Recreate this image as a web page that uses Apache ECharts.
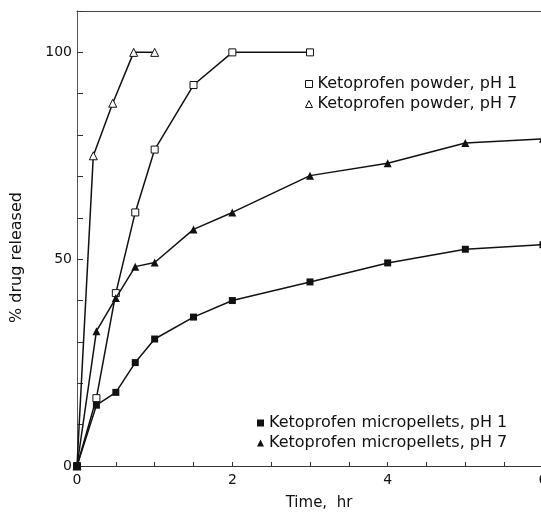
<!DOCTYPE html>
<html>
<head>
<meta charset="utf-8">
<script src="https://cdn.jsdelivr.net/npm/echarts@6/dist/echarts.min.js"></script>
<style>
  html, body { margin: 0; padding: 0; background: #fff; }
  #chart { width: 541px; height: 516px; }
</style>
</head>
<body>
<div id="chart"></div>
<script>
// values (time in hr, % drug released)
var timePowderPH1 = [0, 0.25, 0.5, 0.75, 1, 1.5, 2, 3];
var powderPH1 = [0, 16.4, 41.8, 61.3, 76.5, 92.1, 100, 100];
var timePowderPH7 = [0, 0.21, 0.46, 0.73, 1.0];
var powderPH7 = [0, 75.0, 87.7, 100, 100];
var timeMicro = [0, 0.25, 0.5, 0.75, 1, 1.5, 2, 3, 4, 5, 6];
var microPH1 = [0, 14.7, 17.8, 25.0, 30.7, 36.0, 40.0, 44.5, 49.1, 52.4, 53.5];
var microPH7 = [0, 32.6, 40.6, 48.2, 49.2, 57.2, 61.3, 70.2, 73.2, 78.1, 79.1];
var xLabels = [0, 2, 4, 6];
var yLabels = [0, 50, 100];

var FONT = 'DejaVu Sans';
var INK = '#111';

function pairs(xs, ys) {
  return xs.map(function (x, i) { return [x, ys[i]]; });
}

var openStyle = { color: '#fff', borderColor: INK, borderWidth: 1 };
var fillStyle = { color: INK, borderColor: INK, borderWidth: 0 };

var chart = echarts.init(document.getElementById('chart'));

function lineSeries(name, xs, ys, symbol, size, filled) {
  return {
    name: name,
    type: 'line',
    data: pairs(xs, ys),
    symbol: symbol,
    symbolSize: size,
    showAllSymbol: true,
    clip: false,
    lineStyle: { color: INK, width: 1.5 },
    itemStyle: filled ? fillStyle : openStyle,
    emphasis: { disabled: true },
    z: filled ? 3 : 2
  };
}

function legendBox(items, left, top) {
  return {
    data: items,
    orient: 'vertical',
    left: left, top: top,
    padding: 0,
    itemWidth: 7, itemHeight: 7, itemGap: 4,
    selectedMode: false,
    textStyle: { fontFamily: FONT, fontSize: 16, color: INK, lineHeight: 15 }
  };
}

chart.setOption({
  animation: false,
  backgroundColor: '#fff',
  grid: { left: 77, right: -2, top: 11, bottom: 50, outerBoundsMode: 'none', containLabel: false },
  legend: [
    legendBox([
      { name: 'Ketoprofen powder, pH 1', icon: 'rect', itemStyle: openStyle },
      { name: 'Ketoprofen powder, pH 7', icon: 'triangle', itemStyle: openStyle }
    ], 305, 76),
    legendBox([
      { name: 'Ketoprofen micropellets, pH 1', icon: 'rect', itemStyle: fillStyle },
      { name: 'Ketoprofen micropellets, pH 7', icon: 'triangle', itemStyle: fillStyle }
    ], 257, 415)
  ],
  xAxis: [
    {
      type: 'value',
      min: 0, max: 6, interval: 0.5,
      name: 'Time,  hr',
      nameLocation: 'middle',
      nameGap: 30,
      nameTextStyle: { fontFamily: FONT, fontSize: 15, color: INK, padding: [0, 0, 0, 18] },
      axisLine: { show: true, lineStyle: { color: '#333', width: 1 } },
      axisTick: { show: true, inside: true, length: 4, lineStyle: { color: '#333' } },
      axisLabel: {
        fontFamily: FONT, fontSize: 14, color: INK, margin: 7,
        formatter: function (v) { return xLabels.indexOf(v) >= 0 ? String(v) : ''; }
      },
      splitLine: { show: false }
    },
    {
      type: 'value',
      position: 'top',
      min: 0, max: 6,
      axisLine: { show: true, lineStyle: { color: '#444', width: 1 } },
      axisTick: { show: false },
      axisLabel: { show: false },
      splitLine: { show: false }
    }
  ],
  yAxis: {
    type: 'value',
    min: 0, max: 110, interval: 10,
    name: '% drug released',
    nameLocation: 'middle',
    nameRotate: 90,
    nameGap: 52,
    nameTextStyle: { fontFamily: FONT, fontSize: 16, color: INK, padding: [0, 38, 0, 0] },
    axisLine: { show: true, lineStyle: { color: '#555', width: 1 } },
    axisTick: { show: true, inside: true, length: 6, lineStyle: { color: '#333' } },
    axisLabel: {
      fontFamily: FONT, fontSize: 14, color: INK, margin: 5,
      formatter: function (v) { return yLabels.indexOf(v) >= 0 ? String(v) : ''; }
    },
    splitLine: { show: false }
  },
  series: [
    lineSeries('Ketoprofen powder, pH 1', timePowderPH1, powderPH1, 'rect', 7, false),
    lineSeries('Ketoprofen powder, pH 7', timePowderPH7, powderPH7, 'triangle', 8, false),
    lineSeries('Ketoprofen micropellets, pH 1', timeMicro, microPH1, 'rect', 7, true),
    lineSeries('Ketoprofen micropellets, pH 7', timeMicro, microPH7, 'triangle', 8, true)
  ]
});
</script>
</body>
</html>
